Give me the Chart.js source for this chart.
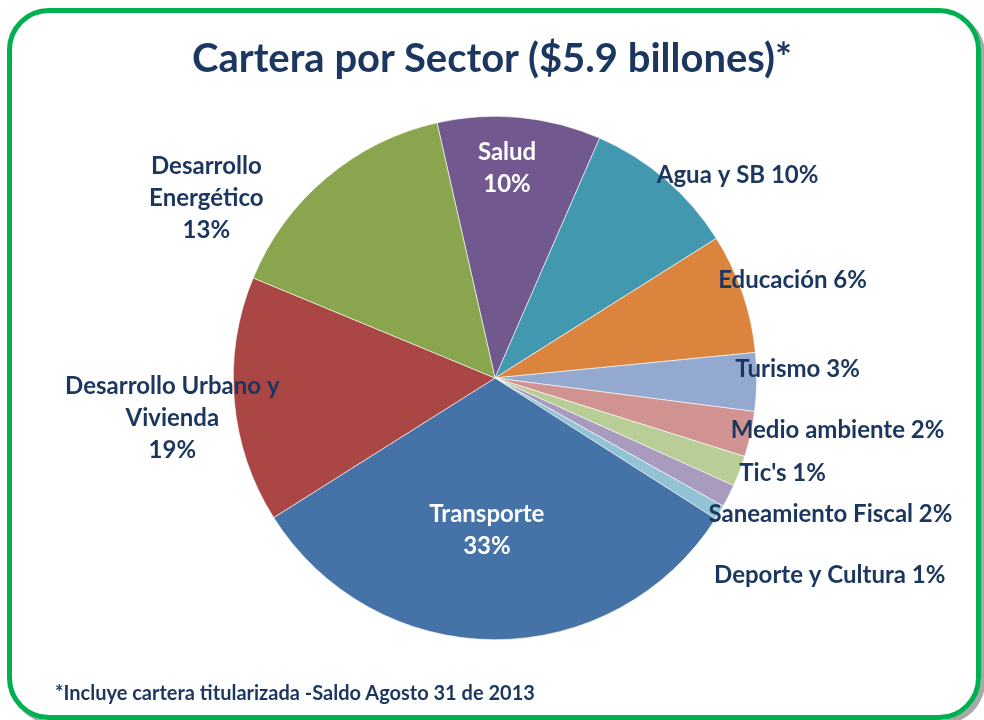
<!DOCTYPE html>
<html>
<head>
<meta charset="utf-8">
<script src="https://cdn.jsdelivr.net/npm/chart.js@4.4.1/dist/chart.umd.min.js"></script>
<style>
  html, body { margin: 0; padding: 0; background: #ffffff; }
  #wrap { position: relative; width: 984px; height: 720px; overflow: hidden; background: #fff; }
  #frame {
    position: absolute; left: 7px; top: 8px; width: 964px; height: 702px;
    border: 5px solid #00B050; border-radius: 42px;
    box-shadow: 4px 4px 0 #a8a8a8;
  }
  #title {
    position: absolute; left: 0; width: 984px; top: 33px; line-height: 48px; text-align: center;
    font-family: Lato, "Open Sans", sans-serif; font-weight: bold; font-size: 40px;
    color: #1B365F; white-space: nowrap;
  }
  #note {
    position: absolute; left: 55px; top: 680px; line-height: 24px;
    font-family: Lato, "Open Sans", sans-serif; font-weight: bold; font-size: 20px;
    color: #1B365F; white-space: nowrap;
  }
  #c { position: absolute; left: 0; top: 0; }
</style>
</head>
<body>
<div id="wrap">
  <div id="frame"></div>
  <canvas id="c" width="984" height="720"></canvas>
  <div id="title">Cartera por Sector ($5.9 billones)*</div>
  <div id="note">*Incluye cartera titularizada -Saldo Agosto 31 de 2013</div>
</div>
<script>
// ---- data (shares, %) ----
const categories = ["Salud", "Agua y SB", "Educación", "Turismo", "Medio ambiente", "Tic's",
                    "Saneamiento Fiscal", "Deporte y Cultura", "Transporte",
                    "Desarrollo Urbano y Vivienda", "Desarrollo Energético"];
const shares = [10.1, 9.5, 7.4, 3.6, 2.8, 1.9, 1.4, 0.9, 32.0, 15.2, 15.2];
const percentLabels = ["10%", "10%", "6%", "3%", "2%", "1%", "2%", "1%", "33%", "19%", "13%"];
const labelLines = [
  ["Salud", "10%"],
  ["Agua y SB 10%"],
  ["Educación 6%"],
  ["Turismo 3%"],
  ["Medio ambiente 2%"],
  ["Tic's 1%"],
  ["Saneamiento Fiscal 2%"],
  ["Deporte y Cultura 1%"],
  ["Transporte", "33%"],
  ["Desarrollo Urbano y", "Vivienda", "19%"],
  ["Desarrollo", "Energético", "13%"]
];
const colors = ["#71588F", "#4198AF", "#DB843D", "#93A9CF", "#D19392", "#B9CD96",
                "#A99BBD", "#92C3D4", "#4572A7", "#AA4643", "#89A54E"];

// label placement relative to the pie centre, in units of the pie radius
const labelPos = [
  [0.046, -0.80], [0.927, -0.775], [1.137, -0.374], [1.156, -0.034], [1.309, 0.198],
  [1.099, 0.363], [1.282, 0.519], [1.279, 0.752], [-0.031, 0.580], [-1.233, 0.155], [-1.103, -0.687]
];
const insideLabel = [true, false, false, false, false, false, false, false, true, false, false];

const labelPlugin = {
  id: 'sliceLabels',
  afterDatasetsDraw(chart) {
    const ctx = chart.ctx;
    const arcs = chart.getDatasetMeta(0).data;
    ctx.save();
    ctx.font = 'bold 24px Lato, "Open Sans", sans-serif';
    ctx.textAlign = 'center';
    ctx.textBaseline = 'middle';
    arcs.forEach((arc, i) => {
      const r = arc.outerRadius;
      const cx = arc.x + labelPos[i][0] * r;
      const cy = arc.y + labelPos[i][1] * r;
      const lines = labelLines[i];
      const lh = 32;
      const y0 = cy - (lines.length - 1) * lh / 2;
      ctx.fillStyle = insideLabel[i] ? '#FFFFFF' : '#1B365F';
      lines.forEach((t, k) => ctx.fillText(t, cx, y0 + k * lh));
    });
    ctx.restore();
  }
};

new Chart(document.getElementById('c'), {
  type: 'pie',
  data: {
    labels: categories,
    datasets: [{
      data: shares,
      backgroundColor: colors,
      borderColor: '#ffffff',
      borderWidth: 0.6
    }]
  },
  options: {
    responsive: false,
    animation: false,
    rotation: -12.8,
    layout: { padding: { left: 233, right: 227, top: 116, bottom: 80 } },
    plugins: {
      legend: { display: false },
      tooltip: { enabled: false },
      title: { display: false }
    }
  },
  plugins: [labelPlugin]
});
</script>
</body>
</html>
